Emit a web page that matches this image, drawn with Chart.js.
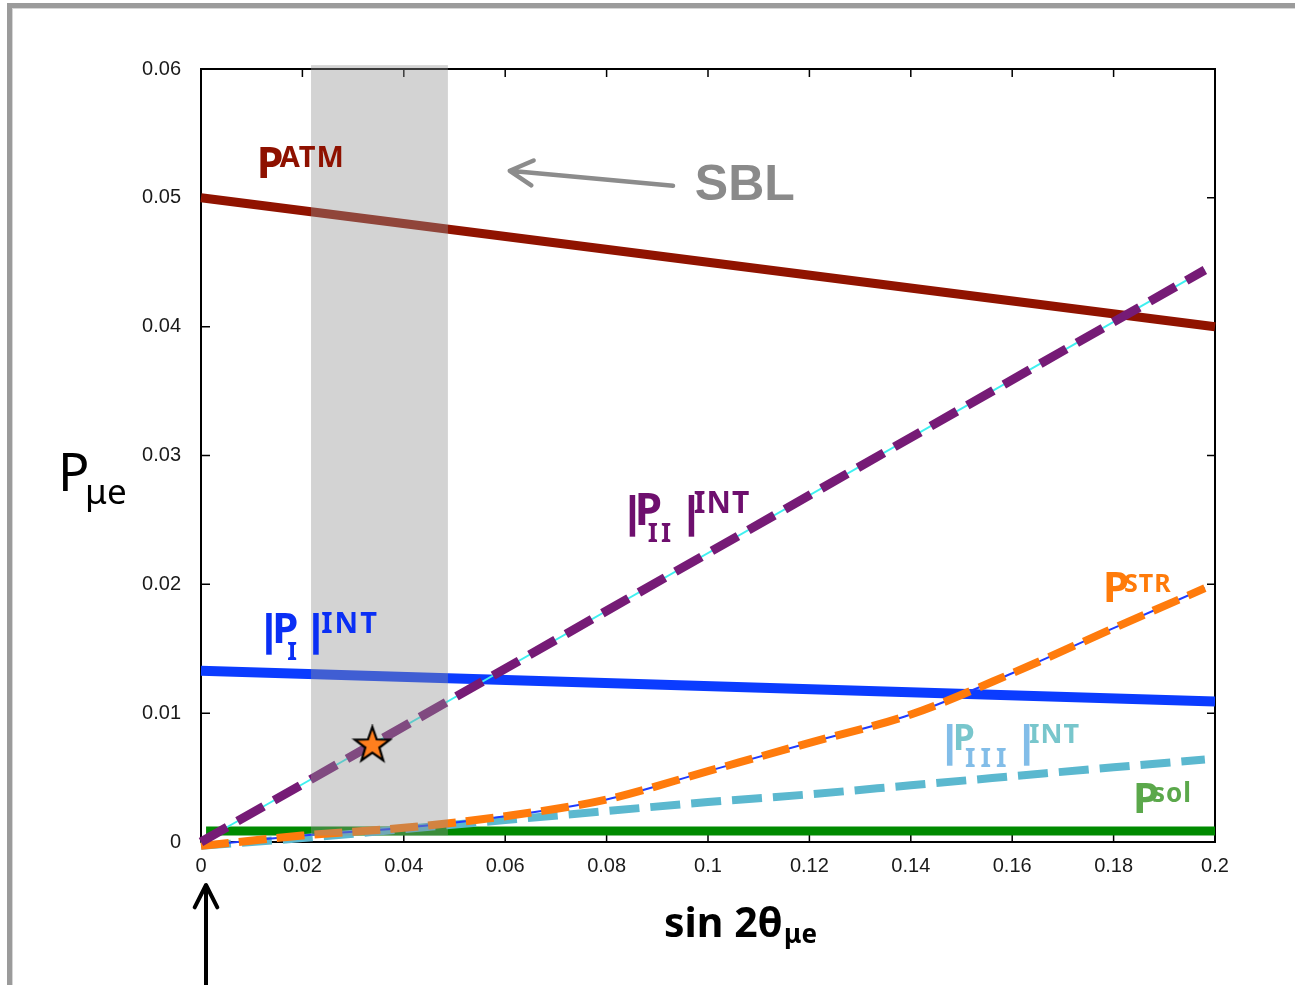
<!DOCTYPE html>
<html>
<head>
<meta charset="utf-8">
<script src="https://cdn.jsdelivr.net/npm/chart.js@4.4.1/dist/chart.umd.min.js"></script>
<style>
  html, body { margin: 0; padding: 0; background: #fff; }
  #wrap { position: relative; width: 1295px; height: 985px; overflow: hidden; background: #fff; }
  #frame { position: absolute; left: 7px; top: 3px; width: 1400px; height: 1100px;
           border-left: 5px solid #9b9b9b; border-top: 5px solid #9b9b9b;
           box-shadow: inset 1px 1px 0 #d6d6d6; pointer-events: none; }
  canvas { position: absolute; left: 0; top: 0; }
</style>
</head>
<body>
<div id="wrap">
  <canvas id="chart" width="1295" height="985"></canvas>
  <div id="frame"></div>
</div>
<script>
// Axis ticks
const xTickValues = [0, 0.02, 0.04, 0.06, 0.08, 0.1, 0.12, 0.14, 0.16, 0.18, 0.2];
const xTickLabels = ['0', '0.02', '0.04', '0.06', '0.08', '0.1', '0.12', '0.14', '0.16', '0.18', '0.2'];
const yTickValues = [0, 0.01, 0.02, 0.03, 0.04, 0.05, 0.06];
const yTickLabels = ['0', '0.01', '0.02', '0.03', '0.04', '0.05', '0.06'];

// Straight components
const atmX = [0, 0.2];
const atmP = [0.0500, 0.0400];
const intIX = [0, 0.2];
const intIP = [0.0133, 0.0109];
const intIIX = [0, 0.198];
const intIIP = [0, 0.0444];
const solX = [0.001, 0.2];
const solP = [0.00085, 0.00085];

// Curved components
const curveX = [0, 0.02, 0.04, 0.06, 0.08, 0.10, 0.12, 0.14, 0.16, 0.18, 0.198];
const strP = [-0.0003, 0.0005, 0.0011, 0.0020, 0.0033, 0.0055, 0.0077, 0.0099, 0.0131, 0.0166, 0.0197];
const intIIIP = [-0.0003, 0.0003, 0.0010, 0.0017, 0.0024, 0.0031, 0.0037, 0.0044, 0.0051, 0.0058, 0.0064];

// Marked point
const starX = [0.0338];
const starP = [0.0075];

// SBL-allowed region
const sblRange = [0.0217, 0.0487];
const sblHeight = [0.0005, 0.0603];

const pts = (xs, ys) => xs.map((v, i) => ({ x: v, y: ys[i] }));

const LABEL_FONT = "'Noto Sans', 'DejaVu Sans', sans-serif";

// Rich-text labels: anchor is left/baseline in data units, parts offset in px
const labels = [
  { x: 0.01099, y: 0.05153, parts: [
      { t: 'P', size: 43, ox: 0, rise: 0, c: '#8e1100' },
      { t: 'ATM', size: 29, ox: 23, rise: 11.6, c: '#8e1100', ls: 1 } ] },
  { x: 0.0119, y: 0.01545, parts: [
      { t: '|', size: 42, ox: -3, rise: -2, c: '#0a2ff5', w: 900 },
      { t: 'P', size: 42, ox: 11, rise: 0, c: '#0a2ff5' },
      { t: 'I', size: 25, ox: 26, rise: -17, c: '#0a2ff5' },
      { t: '|', size: 42, ox: 44, rise: -2, c: '#0a2ff5', w: 900 },
      { t: 'INT', size: 29, ox: 60, rise: 10, c: '#0a2ff5', ls: 2 } ] },
  { x: 0.0836, y: 0.02461, parts: [
      { t: '|', size: 42, ox: -3, rise: -2, c: '#6e0f6e', w: 900 },
      { t: 'P', size: 44, ox: 10, rise: 0, c: '#6e0f6e' },
      { t: 'II', size: 26, ox: 23, rise: -16.7, c: '#6e0f6e', ls: 3 },
      { t: '|', size: 42, ox: 56, rise: -2, c: '#6e0f6e', w: 900 },
      { t: 'INT', size: 30, ox: 69, rise: 11.7, c: '#6e0f6e', ls: 1 } ] },
  { x: 0.1779, y: 0.01866, parts: [
      { t: 'P', size: 42, ox: 0, rise: 0, c: '#ff7b0a' },
      { t: 'STR', size: 25, ox: 21, rise: 10, c: '#ff7b0a', ls: 1 } ] },
  { x: 0.14615, y: 0.00714, parts: [
      { t: '|', size: 42, ox: -3, rise: -6, c: '#82bde8', w: 900 },
      { t: 'P', size: 35, ox: 11, rise: 0, c: '#78c6cc' },
      { t: 'III', size: 27, ox: 23, rise: -17, c: '#82bde8', ls: 5 },
      { t: '|', size: 42, ox: 74, rise: -6, c: '#82bde8', w: 900 },
      { t: 'INT', size: 27, ox: 87, rise: 7, c: '#78c6cc', ls: 1 } ] },
  { x: 0.18383, y: 0.00223, parts: [
      { t: 'P', size: 42, ox: 0, rise: 0, c: '#5ba84b' },
      { t: 'sol', size: 26, ox: 19, rise: 11.6, c: '#5ba84b', ls: 1 } ] }
];

const sblText = { x: 0.0974, y: 0.04984, text: 'SBL' };
const sblArrow = { from: [0.0931, 0.05093], to: [0.0609, 0.0521] };

function drawParts(ctx, px, py, parts) {
  for (const p of parts) {
    ctx.font = `${p.w || 'bold'} ${p.size}px ${LABEL_FONT}`;
    ctx.letterSpacing = `${p.ls || 0}px`;
    ctx.fillStyle = p.c;
    ctx.textAlign = 'left';
    ctx.textBaseline = 'alphabetic';
    ctx.fillText(p.t, px + p.ox, py - p.rise);
  }
  ctx.letterSpacing = '0px';
}

function arrowHead(ctx, tx, ty, fx, fy, len, spread) {
  const ang = Math.atan2(fy - ty, fx - tx);
  ctx.moveTo(tx + len * Math.cos(ang - spread), ty + len * Math.sin(ang - spread));
  ctx.lineTo(tx, ty);
  ctx.lineTo(tx + len * Math.cos(ang + spread), ty + len * Math.sin(ang + spread));
}

function starImage(size) {
  const c = document.createElement('canvas');
  c.width = c.height = size;
  const g = c.getContext('2d');
  const cx = size / 2, cy = size / 2, R = size / 2 - 2.5, r = R * 0.4;
  g.beginPath();
  for (let i = 0; i < 10; i++) {
    const a = -Math.PI / 2 + i * Math.PI / 5;
    const rad = i % 2 ? r : R;
    g.lineTo(cx + rad * Math.cos(a), cy + rad * Math.sin(a));
  }
  g.closePath();
  g.fillStyle = '#ff7f1e';
  g.fill();
  g.lineWidth = 2.2;
  g.lineJoin = 'miter';
  g.strokeStyle = '#000';
  g.stroke();
  return c;
}

const decor = {
  id: 'decor',
  beforeDatasetsDraw(chart) {
    const { ctx, chartArea: a, scales: { x, y } } = chart;
    ctx.save();
    ctx.strokeStyle = '#000';
    ctx.lineWidth = 2;
    ctx.strokeRect(a.left, a.top, a.right - a.left, a.bottom - a.top);
    ctx.lineWidth = 1.5;
    ctx.beginPath();
    for (const v of xTickValues) {
      const px = x.getPixelForValue(v);
      ctx.moveTo(px, a.bottom); ctx.lineTo(px, a.bottom - 8);
      ctx.moveTo(px, a.top); ctx.lineTo(px, a.top + 8);
    }
    for (const v of yTickValues) {
      const py = y.getPixelForValue(v);
      ctx.moveTo(a.left, py); ctx.lineTo(a.left + 9, py);
      ctx.moveTo(a.right, py); ctx.lineTo(a.right - 8, py);
    }
    ctx.stroke();
    ctx.restore();
  },
  beforeDatasetDraw(chart, args) {
    if (chart.data.datasets[args.index].id !== 'star') return;
    const { ctx, scales: { x, y } } = chart;
    const x0 = x.getPixelForValue(sblRange[0]);
    const x1 = x.getPixelForValue(sblRange[1]);
    const yT = y.getPixelForValue(sblHeight[1]);
    const yB = y.getPixelForValue(sblHeight[0]);
    ctx.save();
    ctx.fillStyle = 'rgba(144,144,144,0.4)';
    ctx.fillRect(x0, yT, x1 - x0, yB - yT);
    ctx.restore();
  },
  afterDatasetsDraw(chart) {
    const { ctx, chartArea: a, scales: { x, y } } = chart;
    ctx.save();
    for (const l of labels) {
      drawParts(ctx, x.getPixelForValue(l.x), y.getPixelForValue(l.y), l.parts);
    }
    // SBL pointer
    ctx.font = "bold 50px 'Liberation Sans', Arial, sans-serif";
    ctx.fillStyle = '#8a8a8a';
    ctx.textAlign = 'left';
    ctx.textBaseline = 'alphabetic';
    ctx.fillText(sblText.text, x.getPixelForValue(sblText.x), y.getPixelForValue(sblText.y));
    const fx = x.getPixelForValue(sblArrow.from[0]), fy = y.getPixelForValue(sblArrow.from[1]);
    const tx = x.getPixelForValue(sblArrow.to[0]), ty = y.getPixelForValue(sblArrow.to[1]);
    ctx.strokeStyle = '#8c8c8c';
    ctx.lineWidth = 4.5;
    ctx.lineCap = 'round';
    ctx.lineJoin = 'round';
    ctx.beginPath();
    ctx.moveTo(fx, fy); ctx.lineTo(tx, ty);
    arrowHead(ctx, tx, ty, fx, fy, 26, 0.5);
    ctx.stroke();

    // arrow pointing at the origin of the x axis
    const ax = x.getPixelForValue(0) + 5;
    const aTop = a.bottom + 43;
    ctx.strokeStyle = '#000';
    ctx.lineWidth = 4;
    ctx.lineCap = 'butt';
    ctx.beginPath();
    ctx.moveTo(ax, 990); ctx.lineTo(ax, aTop + 2);
    ctx.stroke();
    ctx.lineCap = 'round';
    ctx.beginPath();
    arrowHead(ctx, ax, aTop, ax, 990, 25, 0.47);
    ctx.stroke();

    // axis titles
    const yMid = y.getPixelForValue(0.03);
    ctx.fillStyle = '#000';
    ctx.font = `400 52px ${LABEL_FONT}`;
    ctx.fillText('P', a.left - 143, yMid + 35);
    ctx.font = `400 35px ${LABEL_FONT}`;
    ctx.fillText('μe', a.left - 116, yMid + 48);

    ctx.font = `bold 41px ${LABEL_FONT}`;
    ctx.fillText('sin 2θ', 664, a.bottom + 95);
    ctx.font = `bold 26px ${LABEL_FONT}`;
    ctx.fillText('μe', 784, a.bottom + 101);
    ctx.restore();
  }
};

const lineBase = { showLine: true, pointRadius: 0, pointHoverRadius: 0, clip: false, fill: false, borderCapStyle: 'butt' };
const tickFont = { family: "'Liberation Sans', Arial, sans-serif", size: 20 };

new Chart(document.getElementById('chart'), {
  type: 'scatter',
  data: {
    datasets: [
      { ...lineBase, label: 'P ATM', data: pts(atmX, atmP), borderColor: '#901300', borderWidth: 9, order: 9 },
      { ...lineBase, label: 'P sol', data: pts(solX, solP), borderColor: '#008a00', borderWidth: 9, order: 8 },
      { ...lineBase, label: '|P I| INT', data: pts(intIX, intIP), borderColor: '#0b3cff', borderWidth: 10, order: 7 },
      { ...lineBase, label: '|P III| INT', data: pts(curveX, intIIIP), borderColor: '#5bb8cf', borderWidth: 8,
        borderDash: [30, 11], cubicInterpolationMode: 'monotone', order: 6 },
      { ...lineBase, label: 'P STR core', data: pts(curveX, strP), borderColor: '#1f3cff', borderWidth: 2,
        cubicInterpolationMode: 'monotone', order: 5 },
      { ...lineBase, label: 'P STR', data: pts(curveX, strP), borderColor: '#ff7b0c', borderWidth: 8,
        borderDash: [28, 10], cubicInterpolationMode: 'monotone', order: 4 },
      { ...lineBase, label: '|P II| INT core', data: pts(intIIX, intIIP), borderColor: '#3ff0f0', borderWidth: 2, order: 3 },
      { ...lineBase, label: '|P II| INT', data: pts(intIIX, intIIP), borderColor: '#761b76', borderWidth: 9,
        borderDash: [30, 12], order: 2 },
      { id: 'star', label: 'star', data: pts(starX, starP), showLine: false, pointStyle: starImage(42),
        pointRadius: 20, pointHoverRadius: 20, clip: false, order: 0 }
    ]
  },
  options: {
    responsive: false,
    animation: false,
    devicePixelRatio: 1,
    events: [],
    layout: { padding: { left: 0, top: 69, right: 80, bottom: 0 } },
    plugins: { legend: { display: false }, tooltip: { enabled: false } },
    scales: {
      x: {
        type: 'linear', min: 0, max: 0.2,
        afterFit: s => { s.height = 143; },
        afterBuildTicks: s => { s.ticks = xTickValues.map(v => ({ value: v })); },
        grid: { display: false, drawTicks: false },
        border: { display: false },
        ticks: { callback: (v, i) => xTickLabels[i], autoSkip: false, maxRotation: 0, padding: 12,
                 color: '#1a1a1a', font: tickFont }
      },
      y: {
        type: 'linear', min: 0, max: 0.06,
        afterFit: s => { s.width = 201; },
        afterBuildTicks: s => { s.ticks = yTickValues.map(v => ({ value: v })); },
        grid: { display: false, drawTicks: false },
        border: { display: false },
        ticks: { callback: (v, i) => yTickLabels[i], autoSkip: false, padding: 20,
                 color: '#1a1a1a', font: tickFont }
      }
    }
  },
  plugins: [decor]
});
</script>
</body>
</html>
